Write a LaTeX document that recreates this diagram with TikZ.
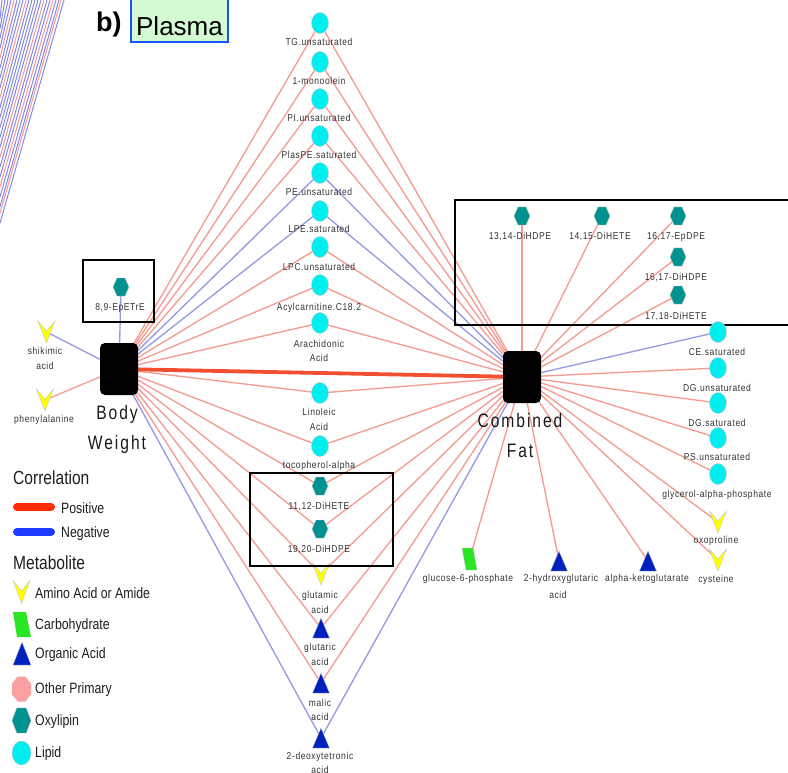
\documentclass[tikz,border=0pt]{standalone}
\usepackage{fontspec}
\setmainfont{Liberation Sans}
\newfontfamily\labfont[FakeStretch=0.85,LetterSpace=6]{Liberation Sans}
\newfontfamily\hubfont[FakeStretch=0.8,LetterSpace=10]{Liberation Sans}
\newfontfamily\legfont[FakeStretch=0.82]{Liberation Sans}
\usetikzlibrary{shapes.geometric}
\pgfdeclarelayer{bg}
\pgfsetlayers{bg,main}
\definecolor{edgered}{RGB}{244,156,146}
\definecolor{edgeblue}{RGB}{150,156,226}
\definecolor{thickred}{RGB}{242,78,48}
\definecolor{lipidc}{RGB}{0,238,240}
\definecolor{oxyc}{RGB}{0,145,145}
\definecolor{aminoc}{RGB}{255,255,0}
\definecolor{orgc}{RGB}{0,32,190}
\definecolor{carbc}{RGB}{45,230,35}
\definecolor{otherc}{RGB}{250,160,160}
\definecolor{legred}{RGB}{255,45,0}
\definecolor{legblue}{RGB}{30,60,255}
\definecolor{labc}{RGB}{50,50,50}
\definecolor{hubc}{RGB}{25,25,25}
\definecolor{legc}{RGB}{30,30,30}
\definecolor{plasmag}{RGB}{212,250,212}
\definecolor{plasmab}{RGB}{25,80,255}
\definecolor{tlblue}{RGB}{135,135,222}
\definecolor{tlred}{RGB}{242,150,155}
\tikzset{
  epos/.style={draw=edgered, line width=1.35pt},
  eneg/.style={draw=edgeblue, line width=1.35pt},
  ethick/.style={draw=thickred, line width=3.8pt},
  mk/.style={inner sep=0pt, minimum size=0pt},
  lipid/.style={ellipse, fill=lipidc, draw=gray!45, line width=0.4pt, minimum width=17pt, minimum height=21pt, inner sep=0pt},
  hubbox/.style={rectangle, rounded corners=5pt, fill=black, minimum width=38pt, minimum height=52pt, inner sep=0pt},
  lab/.style={font=\labfont\fontsize{10}{12}\selectfont, text=labc, inner sep=0pt, text height=7pt, text depth=0pt},
  hubl/.style={font=\hubfont\fontsize{19.5}{22}\selectfont, text=hubc, inner sep=0pt, anchor=base},
  legt/.style={font=\legfont\fontsize{15}{18}\selectfont, text=legc, inner sep=0pt, anchor=west, text height=10.5pt, text depth=0pt},
  legh/.style={font=\legfont\fontsize{19}{22}\selectfont, text=legc, inner sep=0pt, anchor=west, text height=13.5pt, text depth=0pt},
  grpbox/.style={draw=black, line width=1.6pt},
  vpic/.pic={\path[fill=aminoc, draw=gray!45, line width=0.4pt] (-8.5,-11) -- (0,-1) -- (8.5,-11) -- (0,11) -- cycle;},
  tripic/.pic={\path[fill=orgc, draw=gray!45, line width=0.4pt] (0,-10) -- (8.5,10) -- (-8.5,10) -- cycle;},
  parapic/.pic={\path[fill=carbc, draw=gray!45, line width=0.4pt] (-7.5,-11) -- (3.5,-11) -- (7.5,11) -- (-3.5,11) -- cycle;},
  hexpic/.pic={\path[fill=oxyc, draw=gray!45, line width=0.4pt] (-8,0) -- (-4,-9) -- (4,-9) -- (8,0) -- (4,9) -- (-4,9) -- cycle;},
  octpic/.pic={\path[fill=otherc] (9.5,5.2) -- (3.95,12.5) -- (-3.95,12.5) -- (-9.5,5.2) -- (-9.5,-5.2) -- (-3.95,-12.5) -- (3.95,-12.5) -- (9.5,-5.2) -- cycle;}
}
\begin{document}
\begin{tikzpicture}[x=1pt,y=-1pt]
\useasboundingbox (0,0) rectangle (788,773);

% lines of the neighbouring panel (top-left corner)
\foreach \xt/\col in {2/tlblue,5/tlblue,8/tlblue,11/tlblue,14/tlred,17/tlblue,20/tlblue,23/tlblue,26/tlred,29/tlblue,32/tlblue,35/tlblue,38/tlblue,41/tlblue,44/tlred,47/tlblue,50/tlblue,53/tlred,56/tlblue,59/tlblue,61/tlred,64/tlblue}
  {\draw[\col, line width=1pt] (\xt,0) -- (0,{3.3*\xt+12});}

% title
\node[font=\bfseries\fontsize{27}{30}\selectfont, anchor=base west, inner sep=0pt] (btitle) at (96,32) {b)};
\draw[draw=plasmab, fill=plasmag, line width=1.5pt] (131,-2) rectangle (228,42);
\node[font=\fontsize{26}{30}\selectfont, anchor=base, inner sep=0pt] (plasma) at (179.5,36) {Plasma};

% hubs
\node[hubbox] (bw) at (119,369) {};
\node[hubbox] (cf) at (522,377) {};
\node[hubl] (bwl1) at (117,419) {Body};
\node[hubl] (bwl2) at (117,449) {Weight};
\node[hubl] (cfl1) at (520,427) {Combined};
\node[hubl] (cfl2) at (520,457) {Fat};

% middle column
\node[lipid] (tg) at (320,23) {};
\node[lab] (tgL) at (319,42) {TG.unsaturated};
\node[lipid] (mono) at (320,62) {};
\node[lab] (monoL) at (319,81) {1-monoolein};
\node[lipid] (pi) at (320,99) {};
\node[lab] (piL) at (319,118) {PI.unsaturated};
\node[lipid] (plas) at (320,136) {};
\node[lab] (plasL) at (319,155) {PlasPE.saturated};
\node[lipid] (pe) at (320,173) {};
\node[lab] (peL) at (319,192) {PE.unsaturated};
\node[lipid] (lpe) at (320,211) {};
\node[lab] (lpeL) at (319,229) {LPE.saturated};
\node[lipid] (lpc) at (320,247) {};
\node[lab] (lpcL) at (319,267) {LPC.unsaturated};
\node[lipid] (acyl) at (320,285) {};
\node[lab] (acylL) at (319,307) {Acylcarnitine.C18.2};
\node[lipid] (arach) at (320,323) {};
\node[lab] (arachL) at (319,344) {Arachidonic};
\node[lab] (arachM) at (319,358) {Acid};
\node[lipid] (lino) at (320,393) {};
\node[lab] (linoL) at (319,412) {Linoleic};
\node[lab] (linoM) at (319,427) {Acid};
\node[lipid] (toco) at (320,446) {};
\node[lab] (tocoL) at (319,465) {tocopherol-alpha};
\node[mk] (dihete) at (320,486) {};
\pic at (dihete) {hexpic};
\node[lab] (diheteL) at (319,506) {11,12-DiHETE};
\node[mk] (dihdpe) at (320,529) {};
\pic at (dihdpe) {hexpic};
\node[lab] (dihdpeL) at (319,549) {19,20-DiHDPE};
\node[mk] (glutam) at (321,574) {};
\pic at (glutam) {vpic};
\node[lab] (glutamL) at (320,595) {glutamic};
\node[lab] (glutamM) at (320,610) {acid};
\node[mk] (glutar) at (321,628) {};
\pic at (glutar) {tripic};
\node[lab] (glutarL) at (320,647) {glutaric};
\node[lab] (glutarM) at (320,662) {acid};
\node[mk] (malic) at (321,683) {};
\pic at (malic) {tripic};
\node[lab] (malicL) at (320,703) {malic};
\node[lab] (malicM) at (320,717) {acid};
\node[mk] (deoxy) at (321,738) {};
\pic at (deoxy) {tripic};
\node[lab] (deoxyL) at (320,756) {2-deoxytetronic};
\node[lab] (deoxyM) at (320,770) {acid};
\draw[grpbox] (250,473) rectangle (393,566);

% left side
\node[mk] (ep89) at (121,287) {};
\pic at (ep89) {hexpic};
\node[lab] (ep89L) at (120,307) {8,9-EpETrE};
\draw[grpbox] (83,260) rectangle (154,322);
\node[mk] (shik) at (46.5,332) {};
\pic at (shik) {vpic};
\node[lab] (shikL) at (45,351) {shikimic};
\node[lab] (shikM) at (45,366) {acid};
\node[mk] (phe) at (45,400) {};
\pic at (phe) {vpic};
\node[lab] (pheL) at (44,419) {phenylalanine};

% right box (oxylipins)
\node[mk] (h1314) at (522,216) {};
\pic at (h1314) {hexpic};
\node[lab] (h1314L) at (520,236) {13,14-DiHDPE};
\node[mk] (h1415) at (602,216) {};
\pic at (h1415) {hexpic};
\node[lab] (h1415L) at (600,236) {14,15-DiHETE};
\node[mk] (ep1617) at (678,216) {};
\pic at (ep1617) {hexpic};
\node[lab] (ep1617L) at (676,236) {16,17-EpDPE};
\node[mk] (dh1617) at (678,257) {};
\pic at (dh1617) {hexpic};
\node[lab] (dh1617L) at (676,277) {16,17-DiHDPE};
\node[mk] (dh1718) at (678,295) {};
\pic at (dh1718) {hexpic};
\node[lab] (dh1718L) at (676,316) {17,18-DiHETE};
\draw[grpbox] (455,200) rectangle (792,325);

% right column
\node[lipid] (ce) at (718,332) {};
\node[lab] (ceL) at (717,352) {CE.saturated};
\node[lipid] (dgu) at (718,368) {};
\node[lab] (dguL) at (717,388) {DG.unsaturated};
\node[lipid] (dgs) at (718,403) {};
\node[lab] (dgsL) at (717,423) {DG.saturated};
\node[lipid] (ps) at (718,438) {};
\node[lab] (psL) at (717,457) {PS.unsaturated};
\node[lipid] (gly) at (718,474) {};
\node[lab] (glyL) at (717,494) {glycerol-alpha-phosphate};
\node[mk] (oxo) at (718,522) {};
\pic at (oxo) {vpic};
\node[lab] (oxoL) at (716,540) {oxoproline};
\node[mk] (cys) at (718,560) {};
\pic at (cys) {vpic};
\node[lab] (cysL) at (716,579) {cysteine};
\node[mk] (akg) at (648,561) {};
\pic at (akg) {tripic};
\node[lab] (akgL) at (647,578) {alpha-ketoglutarate};
\node[mk] (hglu) at (559,561) {};
\pic at (hglu) {tripic};
\node[lab] (hgluL) at (561,578) {2-hydroxyglutaric};
\node[lab] (hgluM) at (558,595) {acid};
\node[mk] (glc) at (469.5,559) {};
\pic at (glc) {parapic};
\node[lab] (glcL) at (468,578) {glucose-6-phosphate};

% edges
\begin{pgfonlayer}{bg}
\foreach \n/\c in {tg/epos,mono/epos,pi/epos,plas/epos,pe/eneg,lpe/eneg,lpc/epos,acyl/epos,arach/epos,lino/epos,toco/epos,dihete/epos,dihdpe/epos,glutam/epos,glutar/epos,malic/epos,deoxy/eneg}
  {\draw[\c] (bw.center) -- (\n.center); \draw[\c] (cf.center) -- (\n.center);}
\foreach \n/\c in {h1314/epos,h1415/epos,ep1617/epos,dh1617/epos,dh1718/epos,ce/eneg,dgu/epos,dgs/epos,ps/epos,gly/epos,oxo/epos,cys/epos,glc/epos,hglu/epos,akg/epos}
  {\draw[\c] (cf.center) -- (\n.center);}
\draw[eneg] (bw.center) -- (ep89.center);
\draw[eneg] (bw.center) -- (shik.center);
\draw[epos] (bw.center) -- (phe.center);
\draw[ethick] (bw.center) -- (cf.center);
\end{pgfonlayer}

% legend
\node[legh] (corrH) at (13,478) {Correlation};
\draw[legred, line width=8pt, line cap=round] (17,507) -- (51,507);
\node[legt] (posL) at (61,508) {Positive};
\draw[legblue, line width=8pt, line cap=round] (17,532) -- (51,532);
\node[legt] (negL) at (61,532) {Negative};
\node[legh] (metH) at (13,563) {Metabolite};
\pic[yscale=1.05] at (21.5,592) {vpic};
\node[legt] (aminoL) at (35,593) {Amino Acid or Amide};
\path[fill=carbc] (13,612) -- (26,612) -- (31,637) -- (17,637) -- cycle;
\node[legt] (carbL) at (35,624) {Carbohydrate};
\pic[xscale=1.06, yscale=1.15] at (22,653.5) {tripic};
\node[legt] (orgL) at (35,653) {Organic Acid};
\pic at (21.5,689) {octpic};
\node[legt] (othL) at (35,688) {Other Primary};
\pic[xscale=1.19, yscale=1.39] at (21.5,720.5) {hexpic};
\node[legt] (oxyL) at (35,720) {Oxylipin};
\node[lipid, minimum width=19pt, minimum height=24pt] (lipL) at (21.5,753) {};
\node[legt] (lipT) at (35,752) {Lipid};
\end{tikzpicture}
\end{document}
